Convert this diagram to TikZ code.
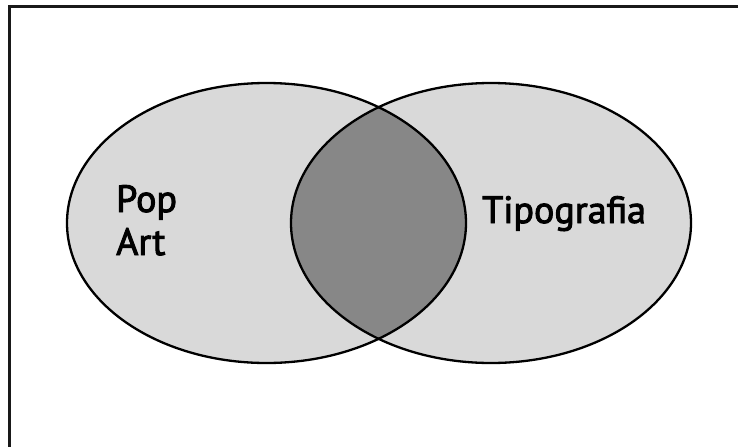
\documentclass[tikz,border=0pt]{standalone}
\usepackage{fontspec}
\newfontfamily\labelfont{PT Sans}[FakeBold=2.5]
\definecolor{lightfill}{HTML}{D9D9D9}
\definecolor{darkfill}{HTML}{878787}
\begin{document}
\begin{tikzpicture}[x=1pt,y=-1pt,
  outline/.style={draw=black,line width=2.3pt},
  frameline/.style={draw=black!90,line width=3pt},
  label/.style={font=\labelfont\fontsize{38}{43}\selectfont,anchor=base west,inner sep=0pt,align=left}]
\useasboundingbox (0,0) rectangle (738,447);
\coordinate (tl) at (9.5,6.5);
\coordinate (tr) at (738,6.5);
\coordinate (bl) at (9.5,447);
\draw[frameline] (tr) -- (tl) -- (bl);
\coordinate (cl) at (266.5,223);
\coordinate (cr) at (491,223);
\fill[lightfill] (cl) ellipse [x radius=199.5, y radius=140];
\fill[lightfill] (cr) ellipse [x radius=200, y radius=140];
\begin{scope}
\clip (cl) ellipse [x radius=199.5, y radius=140];
\fill[darkfill] (cr) ellipse [x radius=200, y radius=140];
\end{scope}
\draw[outline] (cl) ellipse [x radius=199.5, y radius=140];
\draw[outline] (cr) ellipse [x radius=200, y radius=140];
\node[label] (pop) at (116,212) {Pop};
\node[label] (art) at (116,255) {Art};
\node[label] (tipo) at (482,223) {Tipografia};
\end{tikzpicture}
\end{document}
